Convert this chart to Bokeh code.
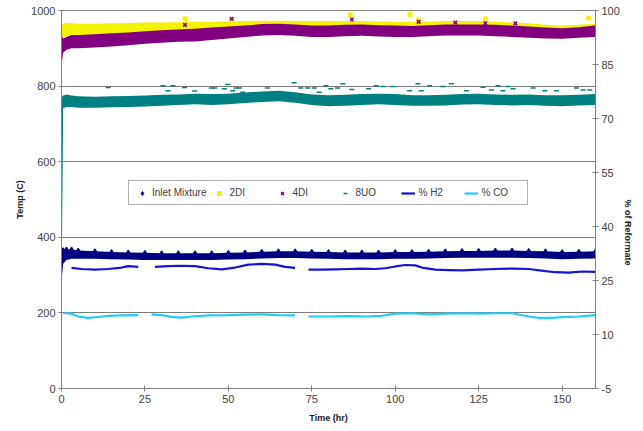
import math
from bokeh.plotting import figure
from bokeh.models import Range1d, LinearAxis, FixedTicker, Legend, LegendItem, PrintfTickFormatter
from bokeh.embed import file_html
from bokeh.resources import INLINE

NaN = float("nan")

# ---- data ----
time_hr = [0, 0.5, 1.5, 3, 5, 10, 15, 20, 25, 30, 35, 40, 45, 50, 55, 60, 65, 70, 75, 80,
           85, 90, 95, 100, 105, 110, 115, 120, 125, 130, 135, 140, 145, 150, 155, 160]

inlet_lo = [285, 330, 340, 343, 343, 343, 342, 341, 340, 340, 340, 340, 340, 341, 342, 344, 345, 345, 344, 343,
            342, 342, 342, 343, 343, 344, 345, 346, 346, 346, 346, 345, 344, 342, 343, 344]
inlet_hi = [362, 366, 368, 368, 365, 363, 361, 360, 359, 358, 358, 358, 358, 359, 360, 362, 363, 363, 362, 361,
            360, 360, 360, 361, 361, 362, 363, 364, 364, 365, 365, 364, 363, 361, 362, 363]

di2_lo = [835, 925, 932, 935, 935, 935, 937, 938, 940, 942, 944, 945, 946, 948, 950, 952, 952, 950, 948, 948,
          948, 948, 946, 945, 945, 946, 948, 948, 948, 945, 943, 940, 930, 926, 930, 935]
di2_hi = [960, 966, 967, 966, 965, 965, 966, 967, 968, 968, 969, 970, 970, 971, 972, 973, 973, 972, 972, 972,
          972, 972, 971, 970, 970, 971, 972, 972, 972, 970, 968, 966, 962, 960, 962, 965]
di2_out_t = [37, 51, 86.5, 104.4, 107, 127, 158]
di2_out_v = [978, 976, 988, 990, 975, 978, 980]

di4_lo = [855, 888, 896, 900, 900, 902, 905, 908, 912, 915, 917, 918, 922, 926, 930, 934, 935, 933, 930, 930,
          932, 933, 931, 930, 930, 932, 934, 934, 934, 932, 930, 928, 926, 925, 928, 930]
di4_hi = [935, 925, 930, 935, 935, 937, 940, 942, 945, 948, 950, 952, 955, 958, 960, 964, 965, 963, 960, 960,
          962, 963, 961, 960, 959, 961, 963, 963, 963, 962, 960, 958, 955, 953, 956, 960]
di4_out_t = [37, 51, 87, 107, 118, 127, 136]
di4_out_v = [962, 978, 976, 970, 968, 966, 966]

uo8_lo = [230, 742, 745, 745, 743, 743, 744, 745, 746, 748, 750, 752, 750, 752, 755, 758, 760, 756, 750, 747,
          748, 750, 752, 750, 748, 748, 749, 751, 752, 750, 749, 750, 748, 747, 749, 750]
uo8_hi = [770, 775, 778, 775, 773, 772, 773, 774, 775, 777, 778, 780, 779, 780, 783, 786, 788, 784, 778, 776,
          777, 779, 780, 779, 776, 776, 777, 779, 780, 778, 777, 778, 776, 776, 777, 779]
uo8_out_t = [14, 30.4, 31.9, 33.4, 36.9, 39.9, 44.9, 45.9, 48.8, 49.8, 51.3, 52.3, 53.3, 54.3, 61.7, 69.7,
             71.7, 73.7, 75.7, 77.2, 79.2, 80.7, 82.7, 84.3, 87, 92, 94.3, 96.3, 99.3, 104.3, 106.8, 107.8,
             110.3, 114.3, 116.8, 121.3, 126.3, 128.8, 130.8, 132.3, 133.8, 135.3, 141.3, 144.8, 148.3,
             154.3, 156.3, 158.3]
uo8_out_v = [796, 801, 788, 801, 796, 787, 795, 795, 793, 804, 788, 795, 795, 784, 795, 809,
             795, 795, 795, 784, 801, 793, 795, 806, 791, 793, 801, 799, 799, 788, 806, 788,
             801, 799, 806, 788, 797, 790, 801, 788, 799, 793, 795, 788, 788,
             795, 790, 790]

h2_t = [3, 6, 10, 14, 18, 20, 23, 25,
        28, 32, 36, 40, 44, 48, 52, 56, 60, 64, 67, 70, 72,
        74, 78, 82, 86, 90, 94, 97, 100, 103, 106, 108, 112, 116, 120, 125, 130, 135, 140, 145, 148, 152, 156, 160]
h2_v = [28.5, 28.2, 28.0, 28.2, 28.6, 29.0, 28.8, NaN,
        28.8, 29.0, 29.1, 29.0, 28.4, 28.1, 28.6, 29.4, 29.6, 29.4, 28.8, 28.5, NaN,
        28.0, 28.0, 28.1, 28.2, 28.3, 28.2, 28.4, 28.9, 29.3, 29.2, 28.6, 28.0, 27.9, 27.8, 28.0, 28.2, 28.3, 28.2,
        27.6, 27.3, 27.2, 27.5, 27.4]

co_t = [0.5, 3, 5, 8, 10, 14, 18, 23, 25,
        27, 30, 33, 36, 39, 44, 50, 55, 60, 65, 70, 72,
        74, 80, 86, 92, 96, 100, 105, 110, 115, 120, 125, 130, 135, 140, 143, 147, 150, 155, 160]
co_v = [16.0, 15.8, 15.0, 14.6, 14.8, 15.2, 15.3, 15.4, NaN,
        15.6, 15.4, 14.9, 14.7, 15.0, 15.3, 15.4, 15.5, 15.6, 15.4, 15.3, NaN,
        15.0, 15.0, 15.1, 15.0, 15.2, 15.8, 15.9, 15.6, 15.8, 15.9, 15.8, 15.9, 15.9, 15.0, 14.6, 14.6, 14.8,
        15.0, 15.4]

x_ticks = [0, 25, 50, 75, 100, 125, 150]
temp_ticks = [0, 200, 400, 600, 800, 1000]
pct_ticks = [-5, 10, 25, 40, 55, 70, 85, 100]

C_INLET = "#000080"
C_2DI = "#F5F200"
C_4DI = "#800080"
C_8UO = "#008080"
C_H2 = "#1414D2"
C_CO = "#22CCF5"

FONT = "Liberation Sans"

p = figure(width=640, height=428, x_range=Range1d(0, 160), y_range=Range1d(0, 1000),
           output_backend="svg", toolbar_location=None,
           min_border_left=61, min_border_right=44, min_border_top=10, min_border_bottom=40)
p.extra_y_ranges = {"right": Range1d(-5, 100)}
p.background_fill_color = "white"
p.border_fill_color = "white"
p.outline_line_color = "#808080"

p.xgrid.visible = False
p.ygrid.grid_line_color = "#7a7a7a"
p.ygrid.grid_line_width = 1

# series
p.varea(x=time_hr, y1=inlet_lo, y2=inlet_hi, fill_color=C_INLET)
r_in = p.scatter(x=time_hr, y=inlet_hi, marker="diamond", size=5, color=C_INLET)

p.varea(x=time_hr, y1=di2_lo, y2=di2_hi, fill_color=C_2DI)
r_2di = p.scatter(x=di2_out_t, y=di2_out_v, marker="square", size=4, color=C_2DI)

p.varea(x=time_hr, y1=di4_lo, y2=di4_hi, fill_color=C_4DI)
r_4di = p.scatter(x=di4_out_t, y=di4_out_v, marker="x", size=5, line_width=1.5, color=C_4DI)

p.varea(x=time_hr, y1=uo8_lo, y2=uo8_hi, fill_color=C_8UO)
r_8uo = p.scatter(x=uo8_out_t, y=uo8_out_v, marker="dash", size=5, line_width=1.5, color=C_8UO)

r_h2 = p.line(x=h2_t, y=h2_v, y_range_name="right", line_width=2.2, color=C_H2)
r_co = p.line(x=co_t, y=co_v, y_range_name="right", line_width=2.2, color=C_CO)

# axes
def style_axis(ax, ticks):
    ax.ticker = FixedTicker(ticks=ticks)
    ax.formatter = PrintfTickFormatter(format="%d")
    ax.axis_line_color = "#808080"
    ax.major_tick_line_color = "#808080"
    ax.major_tick_in = 3
    ax.major_tick_out = 3
    ax.minor_tick_line_color = None
    ax.major_label_text_font = FONT
    ax.major_label_text_font_size = "11px"
    ax.major_label_text_color = "#404040"
    ax.major_label_standoff = 3
    ax.axis_label_text_font = FONT
    ax.axis_label_text_font_size = "9px"
    ax.axis_label_text_font_style = "bold"
    ax.axis_label_text_color = "#202020"

xa = p.xaxis[0]
style_axis(xa, x_ticks)
xa.axis_label = "Time (hr)"
xa.axis_label_standoff = 7

ya = p.yaxis[0]
style_axis(ya, temp_ticks)
ya.axis_label = "Temp (C)"
ya.axis_label_standoff = 3

ra = LinearAxis(y_range_name="right")
style_axis(ra, pct_ticks)
ra.axis_label = "% of Reformate"
ra.axis_label_standoff = 5
ra.axis_label_orientation = -math.pi / 2
p.add_layout(ra, "right")

legend = Legend(items=[
    LegendItem(label="Inlet Mixture", renderers=[r_in]),
    LegendItem(label="2DI", renderers=[r_2di]),
    LegendItem(label="4DI", renderers=[r_4di]),
    LegendItem(label="8UO", renderers=[r_8uo]),
    LegendItem(label="% H2", renderers=[r_h2]),
    LegendItem(label="% CO", renderers=[r_co]),
], orientation="horizontal", location=(67, 183),
    glyph_width=14, glyph_height=10, label_height=10, label_standoff=3,
    label_width=40, spacing=6, padding=6, margin=0,
    label_text_font=FONT, label_text_font_size="10px", label_text_color="#404040",
    border_line_color="#606060", border_line_width=1,
    background_fill_color="white", background_fill_alpha=1)
p.add_layout(legend)

open("out.html", "w").write(file_html(p, INLINE))
